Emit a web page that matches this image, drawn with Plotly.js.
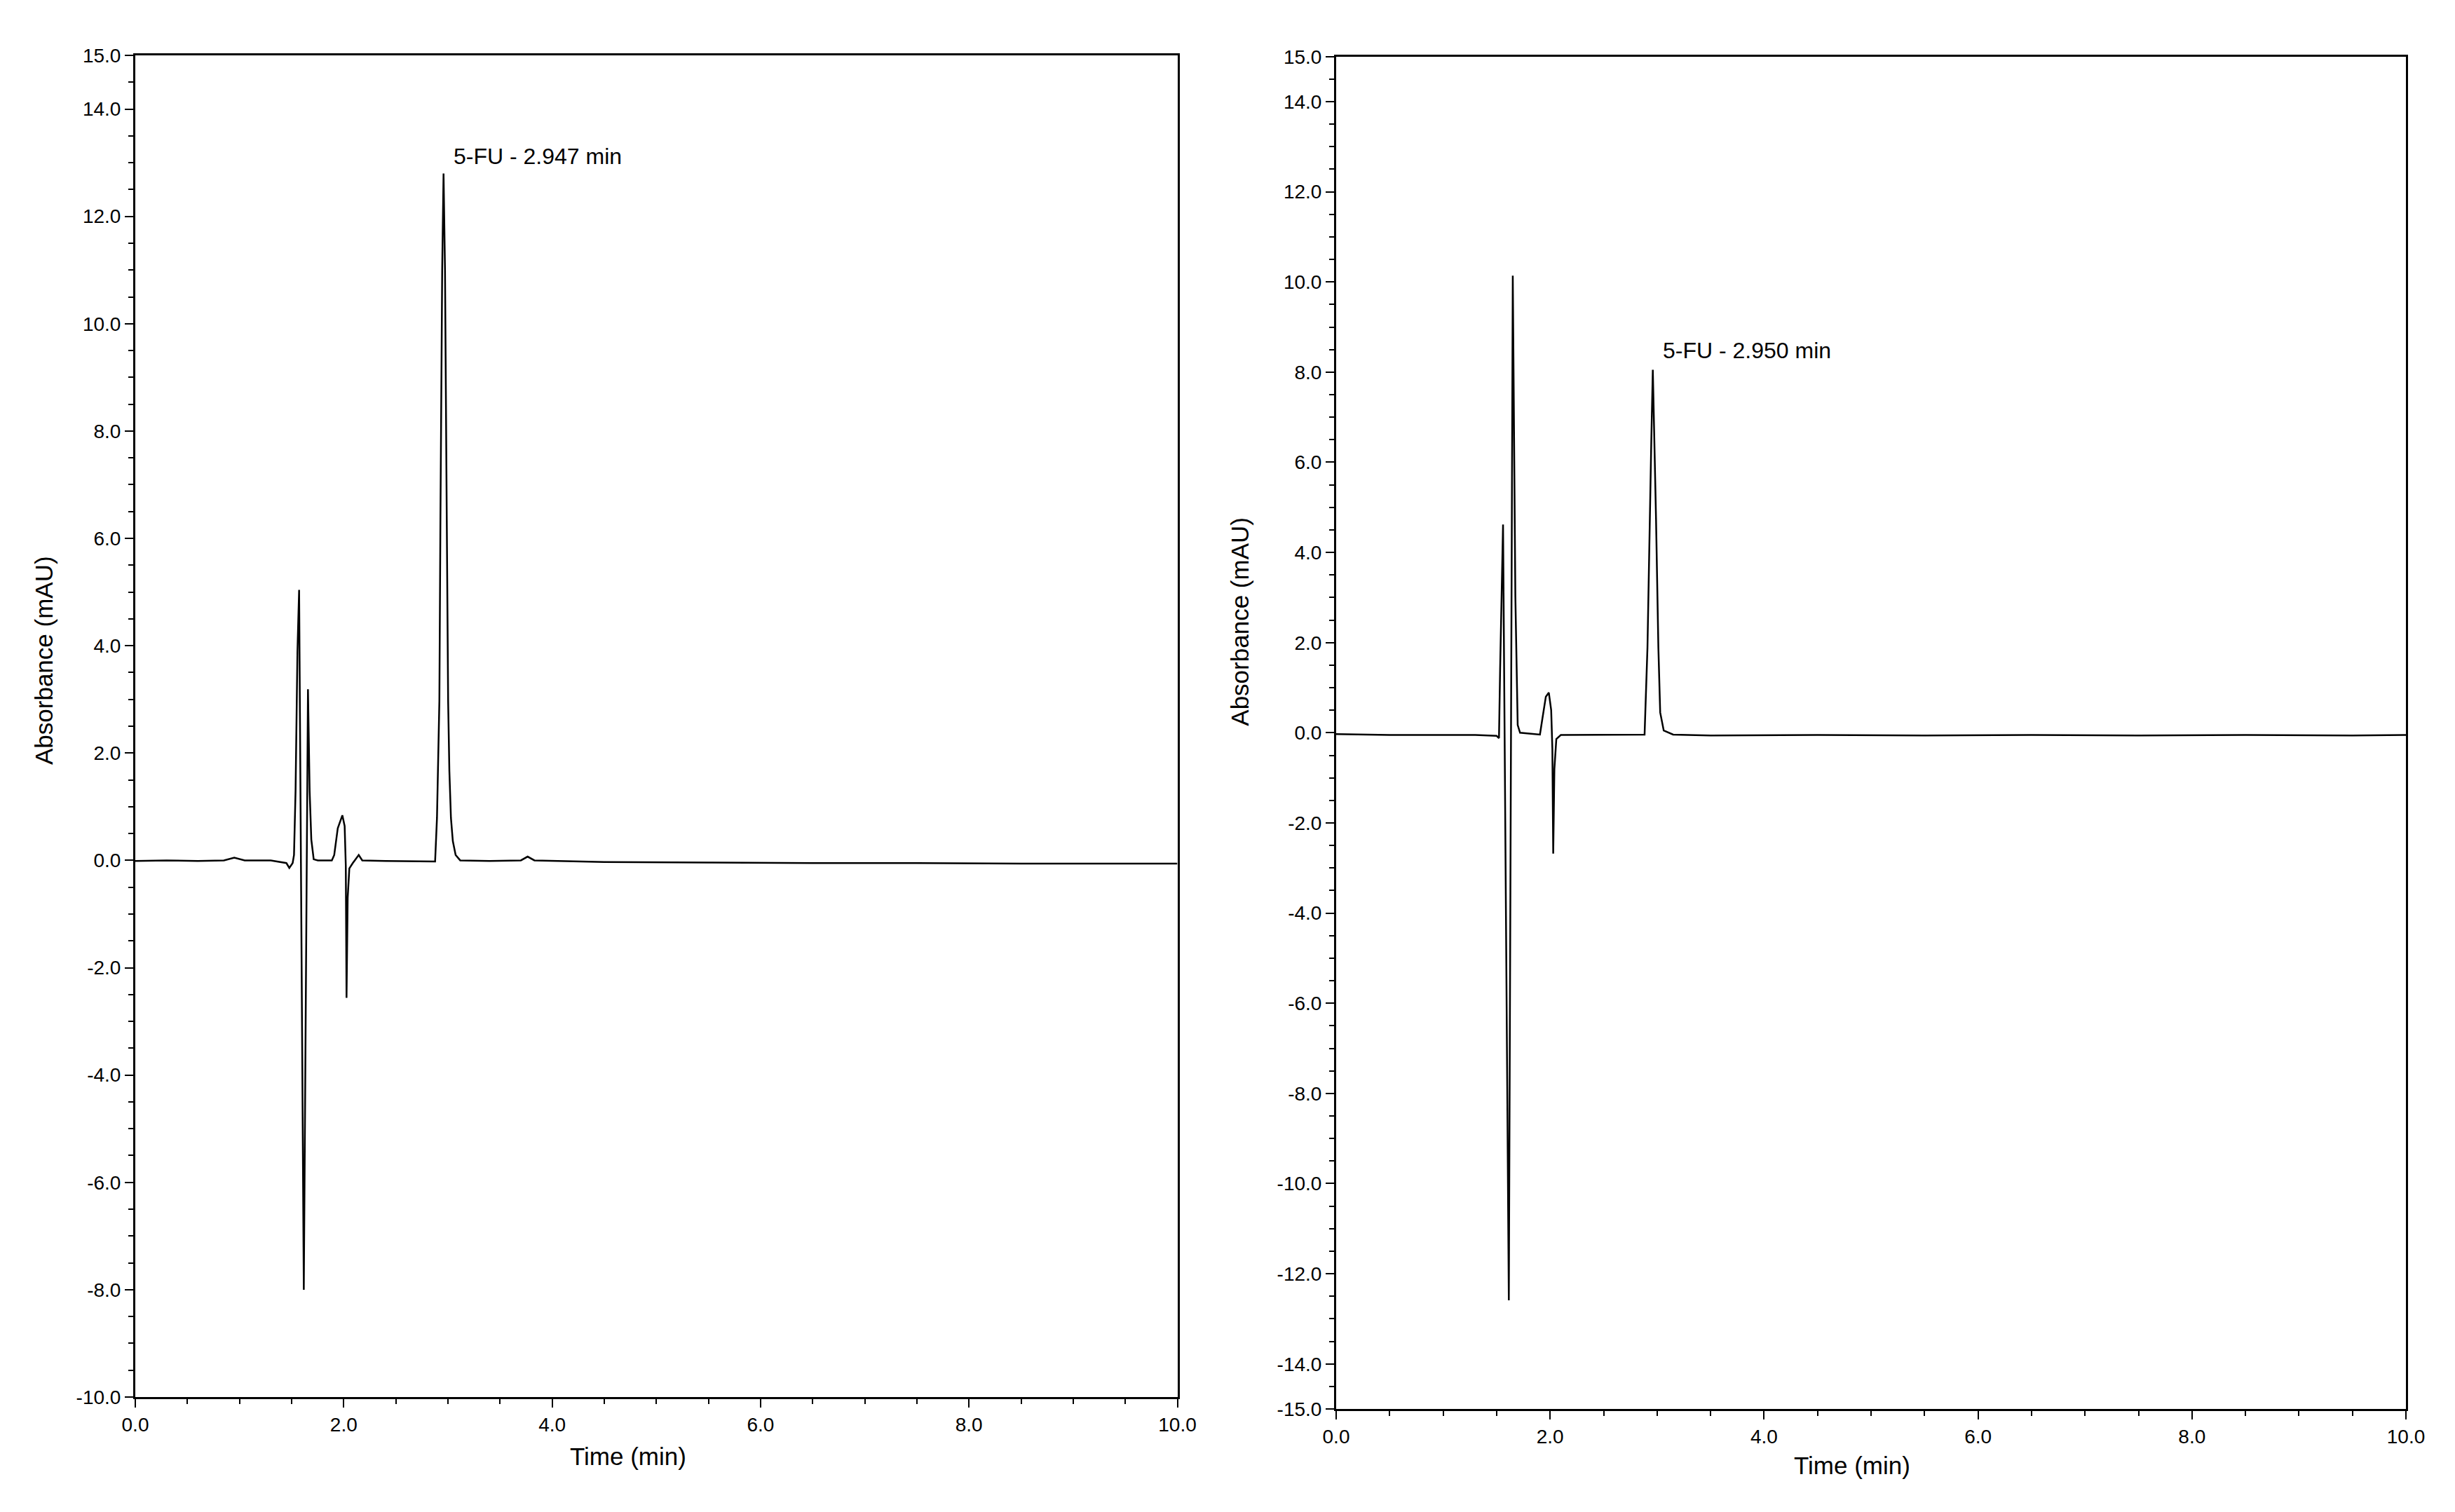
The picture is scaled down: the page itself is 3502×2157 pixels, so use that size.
<!DOCTYPE html>
<html>
<head>
<meta charset="utf-8">
<script src="https://cdn.plot.ly/plotly-3.0.1.min.js"></script>
<style>
  html, body { margin: 0; padding: 0; background: #fff; }
  #chart { width: 3502px; height: 2157px; }
</style>
</head>
<body>
<div id="chart"></div>
<script>
// Cromatograma izquierdo
const tiempoA = [0.0, 0.3, 0.6, 0.85, 0.95, 1.05, 1.3, 1.45, 1.478, 1.51, 1.523, 1.538, 1.556, 1.572, 1.617, 1.657, 1.673, 1.689, 1.712, 1.752,
  1.886, 1.909, 1.943, 1.987, 2.009, 2.02, 2.027, 2.038, 2.054, 2.087, 2.144, 2.178, 2.4, 2.7,
  2.877, 2.895, 2.906, 2.918, 2.928, 2.945, 2.958, 2.972, 2.989, 3.002, 3.014, 3.029, 3.047, 3.074, 3.118,
  3.4, 3.7, 3.765, 3.83, 4.5, 5.5, 6.5, 7.5, 8.5, 9.5, 10.0];
const absA = [-0.01, 0.0, -0.01, 0.0, 0.05, 0.0, 0.0, -0.05, -0.14, -0.05, 0.1, 1.3, 3.89, 5.04, -8.0, 3.19, 1.29, 0.39, 0.02, 0.0,
  0.0, 0.1, 0.6, 0.84, 0.64, -0.1, -2.56, -0.7, -0.15, -0.05, 0.1, 0.0, -0.01, -0.02,
  -0.02, 0.79, 2.1, 2.97, 6.35, 11.0, 12.8, 11.0, 6.35, 2.97, 1.66, 0.79, 0.36, 0.1, 0.0,
  -0.01, 0.0, 0.07, 0.0, -0.03, -0.04, -0.05, -0.05, -0.06, -0.06, -0.06];

// Cromatograma derecho
const tiempoB = [0.0, 0.5, 1.0, 1.3, 1.5, 1.522, 1.533, 1.56, 1.614, 1.651, 1.675, 1.697, 1.719, 1.8, 1.905, 1.927, 1.96, 1.988,
  2.01, 2.021, 2.029, 2.04, 2.058, 2.1, 2.5,
  2.883, 2.91, 2.931, 2.946, 2.96, 2.975, 2.99, 3.012, 3.029, 3.062, 3.15,
  3.5, 4.5, 5.5, 6.5, 7.5, 8.5, 9.5, 10.0];
const absB = [-0.03, -0.05, -0.05, -0.05, -0.07, -0.12, 1.45, 4.62, -12.59, 10.14, 3.04, 0.17, 0.0, -0.02, -0.04, 0.3, 0.8, 0.89,
  0.5, -0.35, -2.68, -0.8, -0.14, -0.05, -0.05,
  -0.04, 1.89, 4.76, 6.49, 8.05, 6.49, 4.76, 1.89, 0.45, 0.05, -0.04,
  -0.06, -0.05, -0.06, -0.05, -0.06, -0.05, -0.06, -0.05];

const etiquetasPico = ['5-FU - 2.947 min', '5-FU - 2.950 min'];
const xTicks = [0, 2, 4, 6, 8, 10];
const yTicksA = [15, 14, 12, 10, 8, 6, 4, 2, 0, -2, -4, -6, -8, -10];
const yTicksB = [15, 14, 12, 10, 8, 6, 4, 2, 0, -2, -4, -6, -8, -10, -12, -14, -15];
const tituloX = 'Time (min)';
const tituloY = 'Absorbance (mAU)';

const fuente = 'Liberation Sans, Arial, sans-serif';
const W = 3502, H = 2157;

// eje con ticks mayores y menores (cada 0.5)
function eje(dominio, ancla, rango, vals) {
  return {
    domain: dominio, anchor: ancla, range: rango,
    tickmode: 'array', tickvals: vals, ticktext: vals.map(v => v.toFixed(1)),
    ticks: 'outside', ticklen: 12, tickwidth: 2, tickcolor: '#000',
    minor: { tickmode: 'linear', tick0: 0, dtick: 0.5, ticks: 'outside', ticklen: 7, tickwidth: 2, tickcolor: '#000' },
    showline: true, linecolor: '#000', linewidth: 3, mirror: true,
    showgrid: false, zeroline: false,
    tickfont: { family: fuente, size: 28, color: '#000' }
  };
}

const traza = (x, y, xa, ya) => ({
  x: x, y: y, xaxis: xa, yaxis: ya, type: 'scatter', mode: 'lines',
  line: { color: '#000', width: 2.5 }, hoverinfo: 'skip', showlegend: false
});

const nota = (texto, x, y, extra) => Object.assign({
  text: texto, showarrow: false, font: { family: fuente, size: 35, color: '#000' }
}, extra, { x: x, y: y });

Plotly.newPlot('chart', [
  traza(tiempoA, absA, 'x', 'y'),
  traza(tiempoB, absB, 'x2', 'y2')
], {
  width: W, height: H,
  margin: { l: 0, r: 0, t: 0, b: 0 },
  paper_bgcolor: '#fff', plot_bgcolor: '#fff',
  showlegend: false,
  xaxis: eje([193 / W, 1679.5 / W], 'y', [0, 10], xTicks),
  yaxis: eje([1 - 1993 / H, 1 - 79 / H], 'x', [-10, 15], yTicksA),
  xaxis2: eje([1906 / W, 3432 / W], 'y2', [0, 10], xTicks),
  yaxis2: eje([1 - 2010 / H, 1 - 80.7 / H], 'x2', [-15, 15], yTicksB),
  annotations: [
    { text: etiquetasPico[0], xref: 'x', yref: 'y', x: 3.044, y: 13.12, xanchor: 'left', yanchor: 'middle',
      showarrow: false, font: { family: fuente, size: 32, color: '#000' } },
    { text: etiquetasPico[1], xref: 'x2', yref: 'y2', x: 3.04, y: 8.48, xanchor: 'left', yanchor: 'middle',
      showarrow: false, font: { family: fuente, size: 32, color: '#000' } },
    nota(tituloX, 895.6 / W, 1 - 2077 / H, { xref: 'paper', yref: 'paper', xanchor: 'center', yanchor: 'middle' }),
    nota(tituloX, 2642 / W, 1 - 2090 / H, { xref: 'paper', yref: 'paper', xanchor: 'center', yanchor: 'middle' }),
    nota(tituloY, 62.5 / W, 1 - 942.5 / H, { xref: 'paper', yref: 'paper', xanchor: 'center', yanchor: 'middle', textangle: -90 }),
    nota(tituloY, 1769 / W, 1 - 886.7 / H, { xref: 'paper', yref: 'paper', xanchor: 'center', yanchor: 'middle', textangle: -90 })
  ]
}, { staticPlot: true });
</script>
</body>
</html>
